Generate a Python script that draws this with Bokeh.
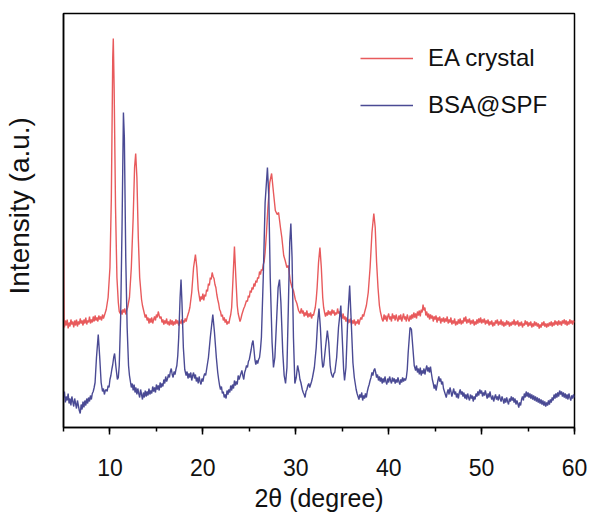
from bokeh.plotting import figure
from bokeh.models import Range1d, SingleIntervalTicker, FixedTicker, Legend, LegendItem, Title
from bokeh.embed import file_html
from bokeh.resources import INLINE

# ---- data: (2θ in degrees, intensity in a.u., traces stacked with offset) ----
ea_points = [
    (5.0, 187), (5.03, 140), (5.06, 110), (5.1, 100), (5.2, 107), (5.3, 102), (5.4, 108), (5.5, 99), (5.6, 105), (5.7, 101),
    (5.8, 108), (5.9, 103), (6.0, 106), (6.1, 100), (6.2, 107), (6.3, 102), (6.4, 108), (6.5, 101), (6.6, 106), (6.7, 103),
    (6.8, 109), (6.9, 104), (7.0, 107), (7.1, 102), (7.2, 108), (7.3, 104), (7.4, 110), (7.5, 103), (7.6, 107), (7.7, 105),
    (7.8, 111), (7.9, 104), (8.0, 108), (8.1, 105), (8.2, 111), (8.3, 106), (8.4, 112), (8.5, 107), (8.6, 110), (8.7, 106),
    (8.8, 112), (8.9, 108), (9.0, 111), (9.1, 107), (9.2, 113), (9.3, 109), (9.4, 112), (9.5, 115), (9.6, 118), (9.8, 130),
    (10.0, 160), (10.15, 230), (10.3, 370), (10.36, 389), (10.45, 340), (10.6, 220), (10.75, 150), (10.9, 125), (11.0, 116),
    (11.1, 114), (11.2, 117), (11.3, 113), (11.4, 118), (11.5, 115), (11.6, 119), (11.7, 113), (11.8, 117), (11.9, 120),
    (12.1, 130), (12.3, 160), (12.5, 210), (12.65, 260), (12.77, 274), (12.9, 250), (13.05, 190), (13.2, 150), (13.4, 128),
    (13.5, 122), (13.6, 118), (13.7, 114), (13.8, 110), (13.9, 113), (14.0, 107), (14.1, 110), (14.2, 104), (14.3, 109),
    (14.4, 105), (14.5, 110), (14.6, 104), (14.7, 108), (14.8, 111), (14.9, 107), (15.0, 113), (15.1, 110), (15.2, 116),
    (15.3, 112), (15.4, 109), (15.5, 111), (15.6, 105), (15.7, 108), (15.8, 103), (15.9, 107), (16.0, 104), (16.1, 109),
    (16.2, 103), (16.3, 106), (16.4, 102), (16.5, 108), (16.6, 103), (16.7, 107), (16.8, 102), (16.9, 106), (17.0, 103),
    (17.1, 108), (17.2, 104), (17.3, 107), (17.4, 102), (17.5, 106), (17.6, 104), (17.7, 108), (17.8, 103), (17.9, 107),
    (18.0, 105), (18.1, 109), (18.2, 106), (18.3, 110), (18.4, 113), (18.5, 116), (18.6, 120), (18.8, 135), (19.0, 160),
    (19.2, 173), (19.35, 160), (19.5, 138), (19.6, 132), (19.7, 126), (19.8, 131), (19.9, 128), (20.0, 134), (20.1, 127),
    (20.2, 133), (20.3, 131), (20.4, 138), (20.5, 136), (20.6, 144), (20.7, 142), (20.8, 150), (20.9, 148), (21.0, 155),
    (21.1, 151), (21.2, 149), (21.3, 143), (21.4, 140), (21.5, 133), (21.6, 128), (21.7, 124), (21.8, 118), (21.9, 116),
    (22.0, 111), (22.1, 113), (22.2, 107), (22.3, 110), (22.4, 105), (22.5, 108), (22.6, 103), (22.7, 106), (22.8, 104),
    (22.9, 109), (23.0, 113), (23.1, 120), (23.25, 150), (23.4, 181), (23.55, 150), (23.7, 122), (23.8, 114), (23.9, 110),
    (24.0, 106), (24.1, 109), (24.2, 113), (24.3, 116), (24.4, 119), (24.5, 121), (24.6, 124), (24.7, 127), (24.8, 126),
    (24.9, 132), (25.0, 130), (25.1, 137), (25.2, 135), (25.3, 140), (25.4, 138), (25.5, 144), (25.6, 141), (25.7, 147),
    (25.8, 145), (25.9, 150), (26.0, 149), (26.1, 156), (26.2, 153), (26.3, 158), (26.4, 157), (26.5, 163), (26.6, 166),
    (26.7, 175), (26.85, 195), (27.0, 220), (27.2, 245), (27.4, 254), (27.6, 235), (27.8, 217), (28.0, 213), (28.15, 215),
    (28.35, 200), (28.5, 190), (28.7, 172), (28.86, 167), (29.04, 160), (29.2, 162), (29.4, 147), (29.6, 140), (29.75, 137),
    (29.95, 128), (30.12, 124), (30.3, 117), (30.47, 114), (30.6, 119), (30.7, 114), (30.8, 117), (30.9, 111), (31.0, 115),
    (31.1, 112), (31.2, 117), (31.3, 110), (31.4, 114), (31.5, 111), (31.6, 115), (31.7, 109), (31.8, 113), (31.9, 112),
    (32.0, 116), (32.1, 120), (32.2, 128), (32.3, 140), (32.45, 165), (32.6, 180), (32.75, 160), (32.9, 130), (33.0, 120),
    (33.1, 115), (33.2, 111), (33.3, 115), (33.4, 112), (33.5, 117), (33.6, 113), (33.7, 116), (33.8, 112), (33.9, 118),
    (34.0, 114), (34.1, 117), (34.2, 112), (34.3, 115), (34.4, 113), (34.5, 119), (34.6, 114), (34.7, 116), (34.8, 111),
    (34.9, 113), (35.0, 109), (35.1, 114), (35.2, 108), (35.3, 111), (35.4, 106), (35.5, 110), (35.6, 104), (35.7, 108),
    (35.8, 105), (35.9, 109), (36.0, 103), (36.1, 107), (36.2, 104), (36.3, 108), (36.4, 102), (36.5, 106), (36.6, 104),
    (36.7, 108), (36.8, 103), (36.9, 107), (37.0, 110), (37.1, 108), (37.2, 113), (37.3, 111), (37.4, 115), (37.6, 122),
    (37.8, 135), (38.0, 160), (38.2, 195), (38.4, 214), (38.55, 200), (38.7, 165), (38.85, 140), (39.0, 122), (39.1, 116),
    (39.2, 112), (39.3, 108), (39.4, 106), (39.5, 113), (39.6, 108), (39.7, 112), (39.8, 106), (39.9, 111), (40.0, 114),
    (40.1, 108), (40.2, 111), (40.3, 106), (40.4, 114), (40.5, 109), (40.6, 112), (40.7, 107), (40.8, 113), (40.9, 109),
    (41.0, 106), (41.1, 112), (41.2, 108), (41.3, 113), (41.4, 106), (41.5, 110), (41.6, 114), (41.7, 108), (41.8, 111),
    (41.9, 106), (42.0, 113), (42.1, 109), (42.2, 106), (42.3, 112), (42.4, 108), (42.5, 113), (42.6, 109), (42.7, 115),
    (42.8, 110), (42.9, 114), (43.0, 109), (43.1, 116), (43.2, 112), (43.3, 117), (43.4, 111), (43.5, 118), (43.6, 115),
    (43.7, 123), (43.8, 117), (43.9, 120), (44.0, 112), (44.1, 116), (44.2, 110), (44.3, 114), (44.4, 108), (44.5, 113),
    (44.6, 109), (44.7, 112), (44.8, 106), (44.9, 111), (45.0, 108), (45.1, 112), (45.2, 105), (45.3, 110), (45.4, 107),
    (45.5, 111), (45.6, 104), (45.7, 109), (45.8, 106), (45.9, 110), (46.0, 105), (46.1, 109), (46.2, 106), (46.3, 111),
    (46.4, 104), (46.5, 108), (46.6, 105), (46.7, 110), (46.8, 103), (46.9, 107), (47.0, 104), (47.1, 109), (47.2, 102),
    (47.3, 106), (47.4, 103), (47.5, 108), (47.6, 104), (47.7, 109), (47.8, 103), (47.9, 107), (48.0, 104), (48.1, 110),
    (48.2, 106), (48.3, 111), (48.4, 104), (48.5, 108), (48.6, 105), (48.7, 109), (48.8, 103), (48.9, 107), (49.0, 104),
    (49.1, 108), (49.2, 102), (49.3, 106), (49.4, 103), (49.5, 108), (49.6, 104), (49.7, 109), (49.8, 105), (49.9, 110),
    (50.0, 104), (50.1, 108), (50.2, 105), (50.3, 109), (50.4, 103), (50.5, 107), (50.6, 104), (50.7, 108), (50.8, 102),
    (50.9, 106), (51.0, 103), (51.1, 107), (51.2, 101), (51.3, 105), (51.4, 102), (51.5, 107), (51.6, 104), (51.7, 108),
    (51.8, 102), (51.9, 106), (52.0, 103), (52.1, 108), (52.2, 102), (52.3, 106), (52.4, 101), (52.5, 105), (52.6, 102),
    (52.7, 107), (52.8, 103), (52.9, 106), (53.0, 101), (53.1, 105), (53.2, 102), (53.3, 106), (53.4, 103), (53.5, 108),
    (53.6, 102), (53.7, 106), (53.8, 103), (53.9, 107), (54.0, 101), (54.1, 105), (54.2, 102), (54.3, 106), (54.4, 100),
    (54.5, 104), (54.6, 102), (54.7, 107), (54.8, 103), (54.9, 106), (55.0, 101), (55.1, 105), (55.2, 102), (55.3, 106),
    (55.4, 100), (55.5, 104), (55.6, 101), (55.7, 106), (55.8, 102), (55.9, 105), (56.0, 101), (56.1, 104), (56.2, 99),
    (56.3, 103), (56.4, 100), (56.5, 105), (56.6, 102), (56.7, 106), (56.8, 101), (56.9, 104), (57.0, 100), (57.1, 104),
    (57.2, 101), (57.3, 105), (57.4, 102), (57.5, 106), (57.6, 101), (57.7, 105), (57.8, 102), (57.9, 107), (58.0, 103),
    (58.1, 106), (58.2, 102), (58.3, 107), (58.4, 103), (58.5, 106), (58.6, 102), (58.7, 107), (58.8, 104), (58.9, 108),
    (59.0, 103), (59.1, 107), (59.2, 102), (59.3, 106), (59.4, 103), (59.5, 108), (59.6, 104), (59.7, 107), (59.8, 103),
    (59.9, 107), (60.0, 105),
]

bsa_points = [
    (5.0, 30), (5.1, 36), (5.2, 25), (5.3, 31), (5.4, 27), (5.5, 34), (5.6, 24), (5.7, 29), (5.8, 22), (5.9, 31),
    (6.0, 26), (6.1, 21), (6.2, 29), (6.3, 24), (6.4, 19), (6.5, 27), (6.6, 22), (6.7, 17), (6.8, 14), (6.9, 23),
    (7.0, 18), (7.1, 26), (7.2, 20), (7.3, 27), (7.4, 22), (7.5, 29), (7.6, 24), (7.7, 30), (7.8, 26), (7.9, 32),
    (8.0, 28), (8.1, 34), (8.2, 36), (8.3, 40), (8.4, 45), (8.55, 70), (8.74, 93), (8.9, 70), (9.05, 45), (9.2, 36),
    (9.3, 39), (9.4, 33), (9.5, 37), (9.6, 38), (9.7, 36), (9.8, 42), (9.9, 40), (10.0, 48), (10.1, 52), (10.2, 58),
    (10.3, 63), (10.4, 70), (10.5, 74), (10.65, 60), (10.8, 48), (10.9, 50), (11.0, 62), (11.15, 110), (11.3, 200),
    (11.45, 315), (11.55, 290), (11.7, 170), (11.85, 100), (12.0, 62), (12.1, 52), (12.2, 46), (12.3, 40), (12.4, 44),
    (12.5, 37), (12.6, 43), (12.7, 35), (12.8, 40), (12.9, 33), (13.0, 39), (13.1, 34), (13.2, 30), (13.3, 38), (13.4, 33),
    (13.5, 28), (13.6, 35), (13.7, 30), (13.8, 37), (13.9, 31), (14.0, 36), (14.1, 32), (14.2, 39), (14.3, 33), (14.4, 37),
    (14.5, 34), (14.6, 41), (14.7, 36), (14.8, 40), (14.9, 35), (15.0, 43), (15.1, 38), (15.2, 42), (15.3, 37), (15.4, 45),
    (15.5, 40), (15.6, 44), (15.7, 41), (15.8, 48), (15.9, 44), (16.0, 51), (16.1, 46), (16.2, 49), (16.3, 53), (16.4, 50),
    (16.5, 56), (16.6, 59), (16.7, 53), (16.8, 50), (16.9, 56), (17.0, 53), (17.1, 58), (17.2, 62), (17.3, 72), (17.4, 90),
    (17.55, 130), (17.65, 148), (17.75, 125), (17.9, 80), (18.05, 58), (18.2, 52), (18.3, 56), (18.4, 49), (18.5, 54),
    (18.6, 50), (18.7, 55), (18.8, 47), (18.9, 52), (19.0, 55), (19.1, 49), (19.2, 53), (19.3, 46), (19.4, 50), (19.5, 44),
    (19.6, 51), (19.7, 46), (19.8, 43), (19.9, 49), (20.0, 46), (20.1, 51), (20.2, 54), (20.3, 52), (20.4, 58), (20.6, 70),
    (20.8, 90), (21.07, 113), (21.25, 95), (21.45, 70), (21.6, 55), (21.7, 48), (21.8, 42), (21.9, 38), (22.0, 41),
    (22.1, 34), (22.2, 36), (22.3, 30), (22.4, 33), (22.5, 29), (22.6, 37), (22.7, 33), (22.8, 38), (22.9, 35), (23.0, 42),
    (23.1, 37), (23.2, 43), (23.3, 39), (23.4, 47), (23.5, 42), (23.6, 46), (23.7, 43), (23.8, 52), (23.9, 48), (24.0, 51),
    (24.1, 54), (24.2, 57), (24.3, 52), (24.4, 48), (24.5, 55), (24.6, 58), (24.7, 62), (24.8, 60), (24.9, 66), (25.0, 68),
    (25.1, 73), (25.2, 78), (25.3, 84), (25.4, 87), (25.5, 78), (25.6, 68), (25.7, 63), (25.8, 67), (25.9, 64), (26.0, 68),
    (26.1, 70), (26.2, 78), (26.3, 90), (26.5, 150), (26.7, 225), (26.95, 260), (27.1, 230), (27.25, 150), (27.45, 85),
    (27.6, 60), (27.75, 70), (27.95, 110), (28.1, 140), (28.25, 148), (28.4, 125), (28.6, 75), (28.75, 52), (28.9, 44),
    (29.05, 60), (29.2, 120), (29.35, 185), (29.47, 204), (29.6, 170), (29.75, 90), (29.9, 44), (30.05, 50), (30.2, 62),
    (30.35, 55), (30.45, 48), (30.55, 45), (30.7, 38), (30.8, 35), (30.9, 33), (31.0, 30), (31.1, 36), (31.2, 38),
    (31.3, 42), (31.4, 44), (31.5, 40), (31.6, 43), (31.7, 46), (31.8, 50), (31.9, 55), (32.0, 60), (32.2, 80),
    (32.35, 105), (32.5, 119), (32.65, 100), (32.8, 70), (32.9, 60), (33.0, 62), (33.2, 80), (33.4, 97), (33.55, 85),
    (33.7, 62), (33.8, 55), (33.9, 52), (34.0, 50), (34.1, 54), (34.2, 55), (34.4, 70), (34.6, 100), (34.85, 122),
    (35.0, 90), (35.15, 58), (35.25, 47), (35.4, 60), (35.6, 110), (35.8, 142), (35.95, 110), (36.15, 65), (36.3, 50),
    (36.4, 44), (36.5, 38), (36.6, 34), (36.7, 31), (36.8, 28), (36.9, 33), (37.0, 30), (37.1, 35), (37.2, 27), (37.3, 32),
    (37.4, 29), (37.5, 34), (37.6, 30), (37.7, 36), (37.8, 40), (37.9, 43), (38.0, 47), (38.1, 50), (38.2, 55), (38.3, 52),
    (38.4, 57), (38.5, 59), (38.6, 55), (38.7, 50), (38.8, 53), (38.9, 47), (39.0, 51), (39.1, 46), (39.2, 50), (39.3, 44),
    (39.4, 49), (39.5, 45), (39.6, 51), (39.7, 46), (39.8, 43), (39.9, 49), (40.0, 45), (40.1, 51), (40.2, 47), (40.3, 44),
    (40.4, 50), (40.5, 46), (40.6, 49), (40.7, 44), (40.8, 48), (40.9, 45), (41.0, 50), (41.1, 46), (41.2, 43), (41.3, 48),
    (41.4, 45), (41.5, 50), (41.6, 46), (41.7, 49), (41.8, 47), (41.9, 50), (42.0, 58), (42.1, 75), (42.3, 100),
    (42.45, 98), (42.6, 80), (42.75, 62), (42.9, 57), (43.0, 62), (43.1, 55), (43.2, 59), (43.3, 53), (43.4, 60),
    (43.5, 52), (43.6, 57), (43.7, 54), (43.8, 59), (43.9, 53), (44.0, 58), (44.1, 62), (44.2, 56), (44.3, 60), (44.4, 55),
    (44.5, 61), (44.6, 54), (44.7, 48), (44.8, 44), (44.9, 39), (45.0, 43), (45.1, 37), (45.2, 42), (45.3, 47), (45.4, 51),
    (45.5, 46), (45.6, 49), (45.7, 43), (45.8, 46), (45.9, 39), (46.0, 36), (46.1, 33), (46.2, 30), (46.3, 35), (46.4, 38),
    (46.5, 33), (46.6, 40), (46.7, 36), (46.8, 31), (46.9, 35), (47.0, 39), (47.1, 33), (47.2, 36), (47.3, 30), (47.4, 34),
    (47.5, 29), (47.6, 35), (47.7, 38), (47.8, 33), (47.9, 36), (48.0, 31), (48.1, 35), (48.2, 29), (48.3, 33), (48.4, 28),
    (48.5, 34), (48.6, 30), (48.7, 27), (48.8, 33), (48.9, 29), (49.0, 32), (49.1, 26), (49.2, 31), (49.3, 28), (49.4, 34),
    (49.5, 31), (49.6, 36), (49.7, 32), (49.8, 38), (49.9, 34), (50.0, 37), (50.1, 31), (50.2, 35), (50.3, 32), (50.4, 37),
    (50.5, 33), (50.6, 29), (50.7, 34), (50.8, 30), (50.9, 36), (51.0, 31), (51.1, 28), (51.2, 32), (51.3, 26), (51.4, 30),
    (51.5, 33), (51.6, 28), (51.7, 31), (51.8, 27), (51.9, 33), (52.0, 29), (52.1, 26), (52.2, 31), (52.3, 28), (52.4, 24),
    (52.5, 29), (52.6, 25), (52.7, 30), (52.8, 26), (52.9, 23), (53.0, 29), (53.1, 26), (53.2, 31), (53.3, 27), (53.4, 30),
    (53.5, 25), (53.6, 29), (53.7, 23), (53.8, 27), (53.9, 24), (54.0, 20), (54.1, 25), (54.2, 22), (54.3, 28), (54.4, 31),
    (54.5, 27), (54.6, 34), (54.7, 30), (54.8, 36), (54.9, 31), (55.0, 35), (55.1, 30), (55.2, 34), (55.3, 29), (55.4, 33),
    (55.5, 28), (55.6, 32), (55.7, 27), (55.8, 31), (55.9, 26), (56.0, 30), (56.1, 25), (56.2, 29), (56.3, 24), (56.4, 28),
    (56.5, 23), (56.6, 27), (56.7, 22), (56.8, 26), (56.9, 21), (57.0, 25), (57.1, 22), (57.2, 27), (57.3, 23), (57.4, 28),
    (57.5, 25), (57.6, 30), (57.7, 27), (57.8, 33), (57.9, 29), (58.0, 34), (58.1, 30), (58.2, 35), (58.3, 31), (58.4, 37),
    (58.5, 33), (58.6, 36), (58.7, 31), (58.8, 35), (58.9, 30), (59.0, 34), (59.1, 29), (59.2, 33), (59.3, 28), (59.4, 34),
    (59.5, 30), (59.6, 27), (59.7, 32), (59.8, 29), (59.9, 33), (60.0, 30),
]

series_names = ["EA crystal", "BSA@SPF"]
series_colors = ["#E85A5C", "#4A4A94"]
y_title = "Intensity (a.u.)"
x_title = "2θ (degree)"

FONT = "Liberation Sans"

ea_x = [pt[0] for pt in ea_points]
ea_y = [pt[1] for pt in ea_points]
bsa_x = [pt[0] for pt in bsa_points]
bsa_y = [pt[1] for pt in bsa_points]

p = figure(width=598, height=515, output_backend="svg", toolbar_location=None,
           x_range=Range1d(5, 60), y_range=Range1d(0, 414),
           min_border_left=63, min_border_right=24, min_border_top=13, min_border_bottom=88)
p.background_fill_color = "white"
p.border_fill_color = "white"
p.grid.visible = False
p.outline_line_color = "black"
p.outline_line_width = 1.5

r1 = p.line(ea_x, ea_y, line_color=series_colors[0], line_width=1.4)
r2 = p.line(bsa_x, bsa_y, line_color=series_colors[1], line_width=1.4)

xa = p.xaxis[0]
xa.ticker = SingleIntervalTicker(interval=10, num_minor_ticks=2)
xa.axis_line_color = "black"
xa.axis_line_width = 1.5
xa.major_tick_line_color = "black"
xa.major_tick_line_width = 1.5
xa.major_tick_out = 7
xa.major_tick_in = 0
xa.minor_tick_line_color = "black"
xa.minor_tick_line_width = 1.5
xa.minor_tick_out = 4
xa.minor_tick_in = 0
xa.major_label_text_font = FONT
xa.major_label_text_font_size = "23px"
xa.major_label_text_color = "#111111"
xa.major_label_standoff = 24
xa.axis_label = x_title
xa.axis_label_text_font = FONT
xa.axis_label_text_font_size = "25px"
xa.axis_label_text_font_style = "normal"
xa.axis_label_text_color = "#111111"
xa.axis_label_standoff = 5

ya = p.yaxis[0]
ya.ticker = FixedTicker(ticks=[])
ya.axis_line_color = "black"
ya.axis_line_width = 1.5
ya.major_tick_line_color = None
ya.minor_tick_line_color = None
ya.major_label_text_font_size = "0px"
# a blank axis label only reserves horizontal room so the side title sits further left
ya.axis_label = " "
ya.axis_label_text_font_size = "10px"
ya.axis_label_standoff = 14

# y title as a side title in the left panel, anchored from the bottom of the frame
ytitle = Title(text=y_title, align="left", offset=133, standoff=2,
               text_font=FONT, text_font_size="28px", text_font_style="normal",
               text_color="#111111")
p.add_layout(ytitle, "left")

legend = Legend(items=[LegendItem(label=series_names[0], renderers=[r1]),
                       LegendItem(label=series_names[1], renderers=[r2])],
                location=(297, 307))
legend.border_line_color = None
legend.background_fill_alpha = 0
legend.padding = 0
legend.margin = 0
legend.spacing = 17
legend.glyph_width = 53
legend.glyph_height = 30
legend.label_height = 30
legend.label_standoff = 15
legend.label_text_font = FONT
legend.label_text_font_size = "24px"
legend.label_text_color = "#111111"
p.add_layout(legend)

open("out.html", "w").write(file_html(p, INLINE))
